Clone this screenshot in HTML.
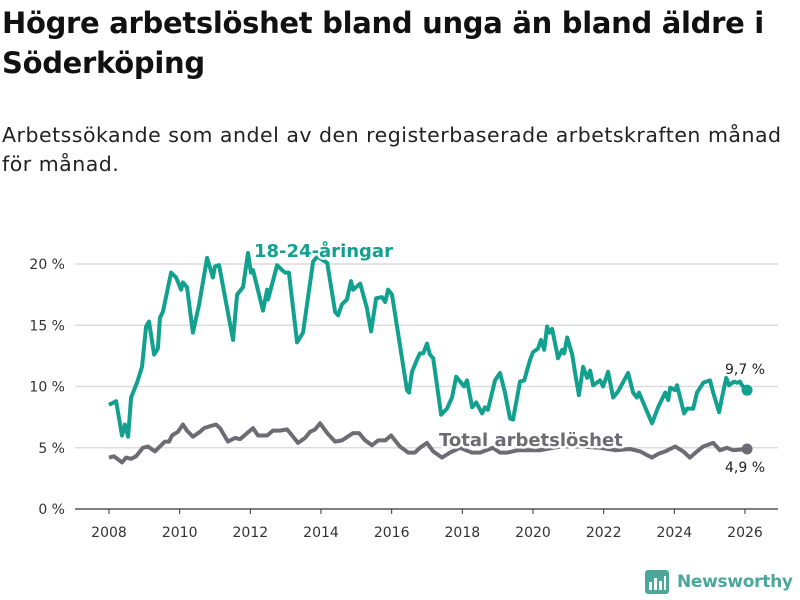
<!DOCTYPE html>
<html><head><meta charset="utf-8"><style>
body{margin:0;background:#fff;width:800px;height:600px;overflow:hidden;font-family:"DejaVu Sans","Liberation Sans",sans-serif;color:#111}
h1{position:absolute;left:2px;top:3px;margin:0;font-size:29px;line-height:40px;font-weight:bold;width:800px;letter-spacing:-0.3px}
p{position:absolute;left:2px;top:121px;margin:0;font-size:20.5px;line-height:29px;color:#222;width:798px;letter-spacing:0.5px}
</style></head><body>
<h1>Högre arbetslöshet bland unga än bland äldre i Söderköping</h1>
<p>Arbetssökande som andel av den registerbaserade arbetskraften månad för månad.</p>
<svg id="chart" width="800" height="600" style="position:absolute;left:0;top:0"></svg>
<script>
const yTicks=[0,5,10,15,20];
const yTickLabels=["0 %","5 %","10 %","15 %","20 %"];
const xTicks=[2008,2010,2012,2014,2016,2018,2020,2022,2024,2026];
const youthMonths=[0,2.4,4.4,5.4,6.5,7.5,9.5,11.2,12.6,13.6,15.3,16.6,17.3,18.3,21.1,22.8,24.5,25.1,26.5,28.5,30.6,33.3,35.3,36,37.4,42.1,43.5,45.5,47.2,48.2,48.9,52.3,53.7,54,57.1,58.8,59.8,61.1,63.9,65.9,69.3,70.7,74.1,76.8,77.8,79.1,80.8,82.2,82.9,85.3,87.6,89,90.7,92.7,93.8,94.8,96.1,101.2,101.9,102.9,104.6,105.6,106.7,108,109,110.1,112.8,114.8,116.5,117.9,120.6,121.6,123.3,124.7,126.7,127.7,128.7,131.1,132.8,134.5,136.2,137.2,138.6,139.6,141,143,144,145.7,146.7,147.8,148.8,149.5,150.5,152.2,152.5,153.9,154.6,155.6,157.3,158.3,159.6,161,162.4,163.4,164.4,166.8,167.8,169.5,171.2,172.9,176.3,178,179.3,180,184.4,186.5,188.9,189.9,190.6,192.3,192.9,195.3,196.3,198.4,199.7,201.8,204.1,205.2,207.2,208.2,209.6,210.6,212.3,213.3,214.3,215,215.7,216.7];
const youthValues=[8.5,8.8,6.0,6.9,5.9,9.1,10.3,11.6,14.9,15.3,12.6,13.1,15.6,16.1,19.3,18.9,17.9,18.5,18.1,14.4,16.7,20.5,18.9,19.8,19.9,13.8,17.5,18.1,20.9,19.3,19.5,16.2,17.9,17.1,19.9,19.5,19.3,19.3,13.6,14.4,20.2,20.6,20.1,16.1,15.8,16.7,17.1,18.6,17.9,18.4,16.4,14.5,17.2,17.3,16.9,17.9,17.5,9.7,9.5,11.2,12.2,12.7,12.7,13.5,12.6,12.3,7.7,8.2,9.1,10.8,10.0,10.5,8.3,8.7,7.8,8.3,8.1,10.5,11.1,9.5,7.4,7.3,9.1,10.4,10.5,12.2,12.8,13.1,13.8,13.0,14.9,14.4,14.7,12.7,12.3,13.0,12.7,14.0,12.6,11.1,9.3,11.6,10.7,11.3,10.1,10.5,10.0,11.2,9.1,9.6,11.1,9.5,9.1,9.5,7.0,8.3,9.5,8.9,9.9,9.7,10.1,7.8,8.2,8.2,9.5,10.3,10.5,9.5,7.9,9.1,10.7,10.1,10.4,10.3,10.4,10.1,9.9,9.7];
const totalMonths=[0,1.7,4.4,5.8,7.5,9.2,11.5,13.2,15.6,19,20.4,21.4,23.4,25.1,26.5,28.5,30.9,32.3,33.6,36.3,37.7,40.4,42.8,44.5,46.9,48.9,50.6,53.7,55.7,58.1,60.5,62.2,64.2,66.6,68.3,70,71.7,74.1,76.8,79.1,82.9,84.9,87,89.3,91.4,93.8,95.8,98.8,101.6,103.9,105.6,108,110.1,113.1,115.8,119.2,123.3,126,130.4,132.8,135.2,138.9,146.4,153.2,160,166.8,171.9,177,180.4,182.7,184.4,186.5,188.9,192.3,195,197.3,199.7,201.8,205.2,207.5,209.9,211.9,216.7];
const totalValues=[4.2,4.3,3.8,4.2,4.1,4.3,5.0,5.1,4.7,5.5,5.5,6.0,6.3,6.9,6.4,5.9,6.3,6.6,6.7,6.9,6.6,5.5,5.8,5.7,6.2,6.6,6.0,6.0,6.4,6.4,6.5,6.0,5.4,5.8,6.3,6.5,7.0,6.2,5.5,5.6,6.2,6.2,5.6,5.2,5.6,5.6,6.0,5.1,4.6,4.6,5.0,5.4,4.7,4.2,4.6,5.0,4.6,4.6,5.0,4.6,4.6,4.8,4.8,5.1,5.1,5.0,4.8,4.9,4.7,4.4,4.2,4.5,4.7,5.1,4.7,4.2,4.7,5.1,5.4,4.8,5.0,4.8,4.9];

const svg=document.getElementById('chart');
const NS='http://www.w3.org/2000/svg';
const X0=75,X1=778;
function xM(m){return 109+m*(636/216);}
function xY(y){return xM((y-2008)*12);}
function yV(v){return 509-v*12.25;}
function mk(tag,attrs,parent){const e=document.createElementNS(NS,tag);for(const k in attrs)e.setAttribute(k,attrs[k]);(parent||svg).appendChild(e);return e;}
yTicks.forEach((t,i)=>{
  if(t>0){const g=mk('line',{x1:X0,x2:X1,y1:yV(t),y2:yV(t),stroke:'#dcdcdc','stroke-width':1.5});
  
  }
  const l=mk('text',{x:65,y:yV(t)+5,'text-anchor':'end','font-size':14,fill:'#333'});
  l.textContent=yTickLabels[i];
  
  
});
const ax=mk('line',{x1:X0,x2:X1,y1:509,y2:509,stroke:'#333','stroke-width':1.2});


xTicks.forEach(t=>{
  const tk=mk('line',{x1:xY(t),x2:xY(t),y1:509,y2:514,stroke:'#333','stroke-width':1});
  
  
  const l=mk('text',{x:xY(t),y:537,'text-anchor':'middle','font-size':14,fill:'#333'});
  l.textContent=t;
  
  
});
function path(ms,vs){return ms.map((m,i)=>(i?'L':'M')+xM(m).toFixed(1)+','+yV(vs[i]).toFixed(1)).join('');}
const tl=mk('path',{d:path(totalMonths,totalValues),fill:'none',stroke:'#6d6c72','stroke-width':4,'stroke-linejoin':'round'});


const yl=mk('path',{d:path(youthMonths,youthValues),fill:'none',stroke:'#12a08f','stroke-width':4,'stroke-linejoin':'round'});


const lastT=totalValues.length-1,lastY=youthValues.length-1;
const d1=mk('circle',{cx:xM(totalMonths[lastT]),cy:yV(totalValues[lastT]),r:5.5,fill:'#6d6c72'});


const d2=mk('circle',{cx:xM(youthMonths[lastY]),cy:yV(youthValues[lastY]),r:5.5,fill:'#12a08f'});


const v1=mk('text',{x:745,y:374,'text-anchor':'middle','font-size':14,fill:'#222'});
v1.textContent='9,7 %';


const v2=mk('text',{x:745,y:472,'text-anchor':'middle','font-size':14,fill:'#222'});
v2.textContent='4,9 %';


const s1=mk('text',{x:254,y:257,'font-size':18,'font-weight':'bold',fill:'#12a08f',stroke:'#fff','stroke-width':5,'paint-order':'stroke','stroke-linejoin':'round'});
s1.textContent='18-24-åringar';


const s2=mk('text',{x:439,y:446,'font-size':18,'font-weight':'bold',fill:'#6d6c72',stroke:'#fff','stroke-width':5,'paint-order':'stroke','stroke-linejoin':'round'});
s2.textContent='Total arbetslöshet';


</script>
<div style="position:absolute;left:645px;top:570px;display:flex;align-items:center">
<svg width="24" height="24"><rect x="0" y="0" width="24" height="24" rx="3" fill="#4aa79a"/><rect x="4" y="12" width="3" height="8" fill="#fff"/><rect x="9" y="8" width="3" height="12" fill="#fff"/><rect x="14" y="11" width="3" height="9" fill="#fff"/><rect x="19" y="6" width="2" height="14" fill="#fff"/></svg>
<span style="margin-left:8px;font-size:17px;font-weight:bold;color:#4aa79a;letter-spacing:-0.3px">Newsworthy</span></div>
</body></html>
